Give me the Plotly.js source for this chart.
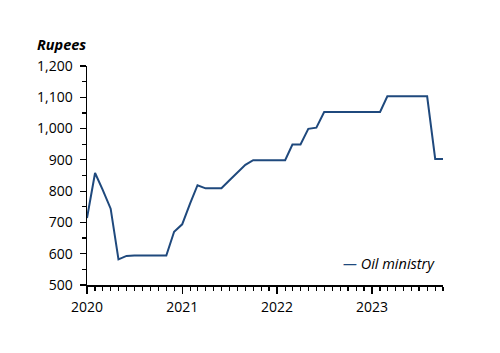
<!DOCTYPE html>
<html>
<head>
<meta charset="utf-8">
<script src="https://cdn.plot.ly/plotly-3.0.1.min.js"></script>
<style>html,body{margin:0;padding:0;background:#fff;}#chart{width:500px;height:353px;}</style>
</head>
<body>
<div id="chart"></div>
<script>
const months = [
  "2020-01-01","2020-02-01","2020-03-01","2020-04-01","2020-05-01","2020-06-01",
  "2020-07-01","2020-08-01","2020-09-01","2020-10-01","2020-11-01","2020-12-01",
  "2021-01-01","2021-02-01","2021-03-01","2021-04-01","2021-05-01","2021-06-01",
  "2021-07-01","2021-08-01","2021-09-01","2021-10-01","2021-11-01","2021-12-01",
  "2022-01-01","2022-02-01","2022-03-01","2022-04-01","2022-05-01","2022-06-01",
  "2022-07-01","2022-08-01","2022-09-01","2022-10-01","2022-11-01","2022-12-01",
  "2023-01-01","2023-02-01","2023-03-01","2023-04-01","2023-05-01","2023-06-01",
  "2023-07-01","2023-08-01","2023-09-01","2023-10-01"
];
const oilMinistry = [
  714, 858, 805, 744, 582, 593,
  594, 594, 594, 594, 594, 670,
  694, 762, 819, 809, 809, 809,
  834, 859, 884, 899, 899, 899,
  899, 899, 949, 949, 999, 1003,
  1053, 1053, 1053, 1053, 1053, 1053,
  1053, 1053, 1103, 1103, 1103, 1103,
  1103, 1103, 903, 903
];
const yTickVals = [500, 600, 700, 800, 900, 1000, 1100, 1200];
const yTickText = ["500", "600", "700", "800", "900", "1,000", "1,100", "1,200"];
const xTickVals = ["2020-01-01", "2021-01-01", "2022-01-01", "2023-01-01"];
const xTickText = ["2020", "2021", "2022", "2023"];
const seriesName = "Oil ministry";
const unitLabel = "Rupees";

const lineColor = "#1F497D";
const font = "Open Sans, Lato, sans-serif";

const trace = {
  x: months, y: oilMinistry, type: "scatter", mode: "lines",
  name: seriesName,
  line: {color: lineColor, width: 2},
  showlegend: false
};

const layout = {
  width: 500, height: 353,
  margin: {l: 87, r: 57, t: 66, b: 68},
  paper_bgcolor: "#fff", plot_bgcolor: "#fff",
  font: {family: font, size: 14, color: "#000"},
  title: {
    text: "<b><i>" + unitLabel + "</i></b>",
    xref: "container", yref: "container",
    x: 0.074, xanchor: "left", y: 0.873, yanchor: "middle",
    font: {family: font, size: 14.5, color: "#000"}
  },
  xaxis: {
    type: "date",
    range: ["2020-01-01", "2023-10-01"],
    tickvals: xTickVals, ticktext: xTickText,
    ticks: "outside", ticklen: 7, tickwidth: 1.2, tickcolor: "#000",
    ticklabelstandoff: 2,
    showline: true, linecolor: "#000", linewidth: 1.5,
    showgrid: false, zeroline: false,
    tickfont: {family: font, size: 14, color: "#000"},
    minor: {dtick: "M1", tick0: "2020-01-01", ticks: "outside", ticklen: 4, tickwidth: 1.2, tickcolor: "#000", showgrid: false}
  },
  yaxis: {
    range: [500, 1200],
    tickvals: yTickVals, ticktext: yTickText,
    ticks: "outside", ticklen: 6, tickwidth: 1.2, tickcolor: "#000",
    ticklabelstandoff: 4,
    showline: true, linecolor: "#000", linewidth: 1.5,
    showgrid: false, zeroline: false,
    tickfont: {family: font, size: 14, color: "#000"},
    minor: {dtick: 50, tick0: 500, ticks: "outside", ticklen: 4, tickwidth: 1.2, tickcolor: "#000", showgrid: false}
  },
  annotations: [{
    xref: "paper", yref: "paper", x: 0.984, y: 0.096,
    xanchor: "right", yanchor: "middle", showarrow: false,
    text: "<i><span style=\"color:" + lineColor + "\">—</span> " + seriesName + "</i>",
    font: {family: font, size: 14.5, color: "#000"}
  }]
};

Plotly.newPlot("chart", [trace], layout, {staticPlot: true, displayModeBar: false});
</script>
</body>
</html>
